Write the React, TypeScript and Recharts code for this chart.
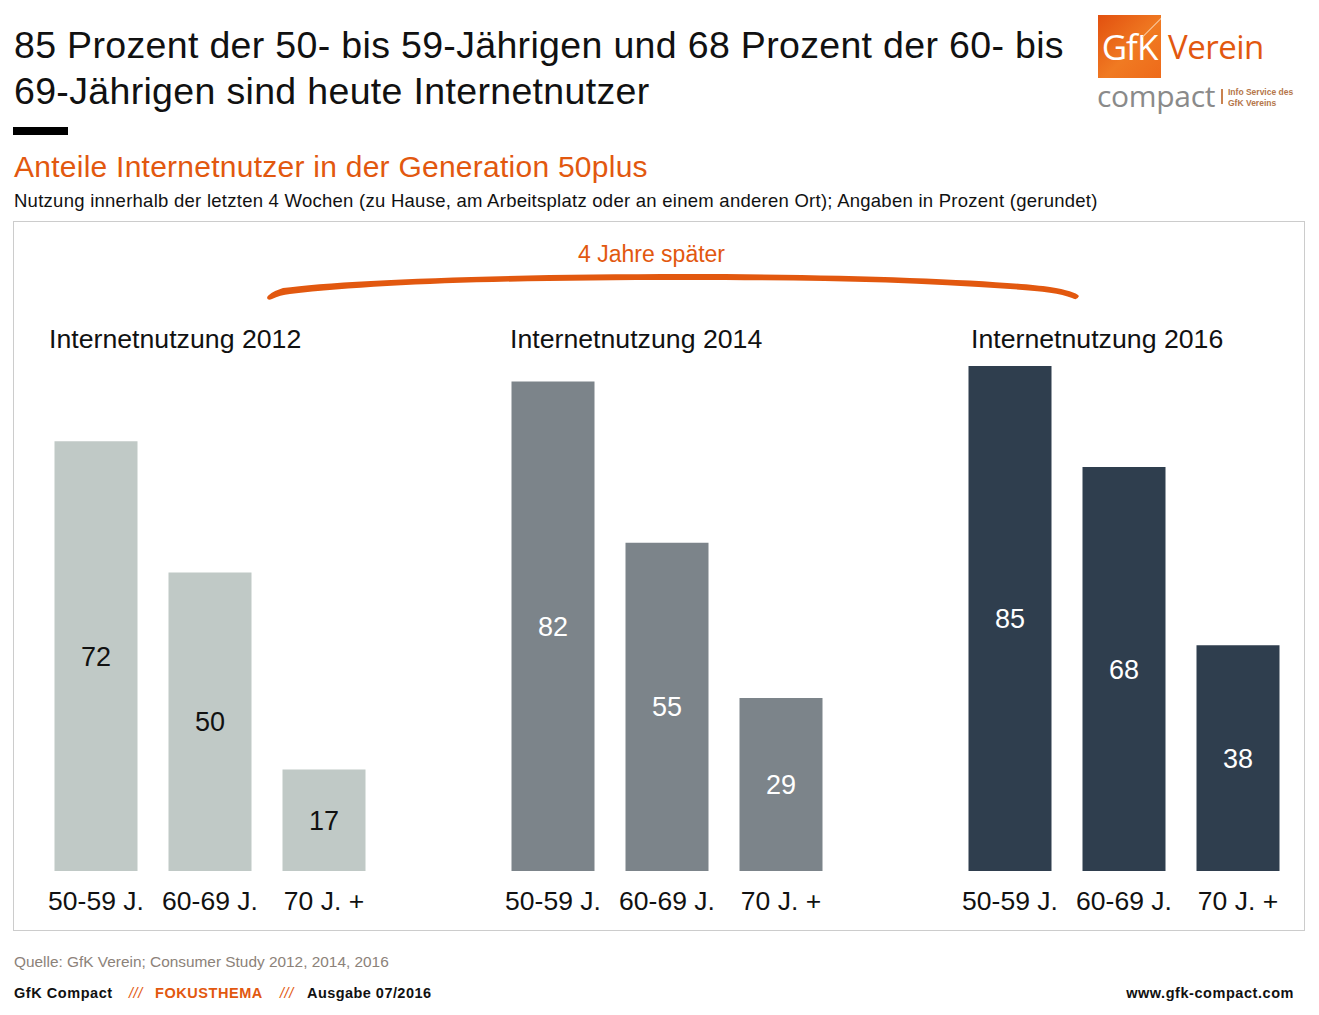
import { BarChart, Bar, XAxis, YAxis, LabelList } from "recharts";

const ageGroups = ["50-59 J.", "60-69 J.", "70 J. +"];
const values2012 = [72, 50, 17];
const values2014 = [82, 55, 29];
const values2016 = [85, 68, 38];

const FONT = '"Liberation Sans", Arial, sans-serif';
const ORANGE = "#e2580f";

interface PanelProps {
  title: string;
  values: number[];
  fill: string;
  labelColor: string;
  left: number;
  titleLeft: number;
  yMax: number;
}

function Panel({ title, values, fill, labelColor, left, titleLeft, yMax }: PanelProps) {
  const data = ageGroups.map((age, i) => ({ age, value: values[i] }));
  return (
    <>
      <div style={{ position: "absolute", left: titleLeft, top: 324, fontSize: 26.7, whiteSpace: "nowrap", color: "#111" }}>
        {title}
      </div>
      <div style={{ position: "absolute", left, top: 360 }}>
        <BarChart width={342} height={571} data={data} margin={{ top: 0, right: 0, bottom: 0, left: 0 }} barCategoryGap={15.5}>
          <XAxis
            dataKey="age"
            height={60}
            axisLine={false}
            tickLine={false}
            interval={0}
            tick={{ fontSize: 26.5, fill: "#111", fontFamily: FONT }}
            tickMargin={14}
          />
          <YAxis hide domain={[0, yMax]} />
          <Bar dataKey="value" fill={fill} isAnimationActive={false}>
            <LabelList dataKey="value" position="center" fill={labelColor} fontSize={27} fontFamily={FONT} />
          </Bar>
        </BarChart>
      </div>
    </>
  );
}

function Logo() {
  return (
    <div style={{ position: "absolute", left: 1097, top: 15, width: 205, height: 100 }}>
      <div
        style={{
          position: "absolute",
          left: 1,
          top: 0,
          width: 63,
          height: 63,
          overflow: "hidden",
          background: "linear-gradient(135deg, #e2500f 0%, #f07a22 55%, #ee6a1a 100%)",
          color: "#fff",
          fontSize: 35,
          lineHeight: "63px",
          textAlign: "center",
          fontFamily: '"Open Sans", sans-serif',
          letterSpacing: -1,
        }}
      >
        GfK
        <div style={{ position: "absolute", left: 40, top: 11, width: 30, height: 1, background: "#f9c9a0", transform: "rotate(-45deg)" }} />
      </div>
      <div style={{ position: "absolute", left: 71, top: 10, fontSize: 33, lineHeight: "44px", color: ORANGE, fontFamily: '"Open Sans", sans-serif', letterSpacing: -0.5 }}>
        Verein
      </div>
      <div style={{ position: "absolute", left: 0, top: 59, fontSize: 30, lineHeight: "44px", color: "#8a8a8a", fontFamily: '"Open Sans", sans-serif', letterSpacing: -0.3 }}>
        compact
      </div>
      <div style={{ position: "absolute", left: 124, top: 74, width: 2, height: 15, background: "#c9824f" }} />
      <div style={{ position: "absolute", left: 131, top: 72, fontSize: 8.5, lineHeight: "11px", color: "#b5764a", fontWeight: 700, whiteSpace: "nowrap" }}>
        Info Service des
        <br />
        GfK Vereins
      </div>
    </div>
  );
}

export default function App() {
  return (
    <div style={{ position: "absolute", left: 0, top: 0, width: 1319, height: 1015, background: "#fff", fontFamily: FONT, overflow: "hidden" }}>
      <div style={{ position: "absolute", left: 14, top: 22, fontSize: 37.5, lineHeight: "46px", letterSpacing: 0.33, color: "#111", whiteSpace: "nowrap" }}>
        85 Prozent der 50- bis 59-Jährigen und 68 Prozent der 60- bis
        <br />
        69-Jährigen sind heute Internetnutzer
      </div>
      <div style={{ position: "absolute", left: 13, top: 127, width: 55, height: 8, background: "#000" }} />
      <div style={{ position: "absolute", left: 14, top: 150, fontSize: 30, letterSpacing: 0.25, color: ORANGE, whiteSpace: "nowrap" }}>
        Anteile Internetnutzer in der Generation 50plus
      </div>
      <div style={{ position: "absolute", left: 14, top: 190, fontSize: 18.5, letterSpacing: 0.26, color: "#111", whiteSpace: "nowrap" }}>
        Nutzung innerhalb der letzten 4 Wochen (zu Hause, am Arbeitsplatz oder an einem anderen Ort); Angaben in Prozent (gerundet)
      </div>
      <Logo />

      <div style={{ position: "absolute", left: 13, top: 221, width: 1290, height: 708, border: "1px solid #ccc" }} />

      <div style={{ position: "absolute", left: 578, top: 241, fontSize: 23, color: ORANGE, whiteSpace: "nowrap" }}>
        4 Jahre später
      </div>
      <svg style={{ position: "absolute", left: 0, top: 0 }} width={1319} height={320}>
        <path
          d="M267 298 Q268 293 283 288 C340 280 500 274 685 274 C850 274 1000 280 1050 287 Q1075 291 1079 296 Q1077 301 1072 298 C1060 293 1040 291 1010 289 C900 281 800 280 685 280 C500 280 380 284 290 294 Q280 295 272 299 Q268 301 267 298 Z"
          fill={ORANGE}
        />
      </svg>

      <Panel title="Internetnutzung 2012" values={values2012} fill="#c0c9c6" labelColor="#111" left={39.2} titleLeft={49} yMax={85.6} />
      <Panel title="Internetnutzung 2014" values={values2014} fill="#7c848a" labelColor="#fff" left={496.2} titleLeft={510} yMax={85.6} />
      <Panel title="Internetnutzung 2016" values={values2016} fill="#2f3e4e" labelColor="#fff" left={953.2} titleLeft={971} yMax={86} />

      <div style={{ position: "absolute", left: 14, top: 953, fontSize: 15.4, color: "#8c8279", whiteSpace: "nowrap" }}>
        Quelle: GfK Verein; Consumer Study 2012, 2014, 2016
      </div>
      <div style={{ position: "absolute", left: 14, top: 985, fontSize: 14.5, fontWeight: 700, color: "#111", whiteSpace: "nowrap", letterSpacing: 0.55 }}>
        GfK Compact
        <span style={{ position: "absolute", left: 115, fontWeight: 400, fontStyle: "italic", color: ORANGE }}>///</span>
        <span style={{ position: "absolute", left: 141, color: ORANGE }}>FOKUSTHEMA</span>
        <span style={{ position: "absolute", left: 266, fontWeight: 400, fontStyle: "italic", color: ORANGE }}>///</span>
        <span style={{ position: "absolute", left: 293, letterSpacing: 0.45 }}>Ausgabe 07/2016</span>
      </div>
      <div style={{ position: "absolute", right: 25, top: 985, fontSize: 14.5, fontWeight: 700, color: "#111", whiteSpace: "nowrap", letterSpacing: 0.55 }}>
        www.gfk-compact.com
      </div>
    </div>
  );
}
